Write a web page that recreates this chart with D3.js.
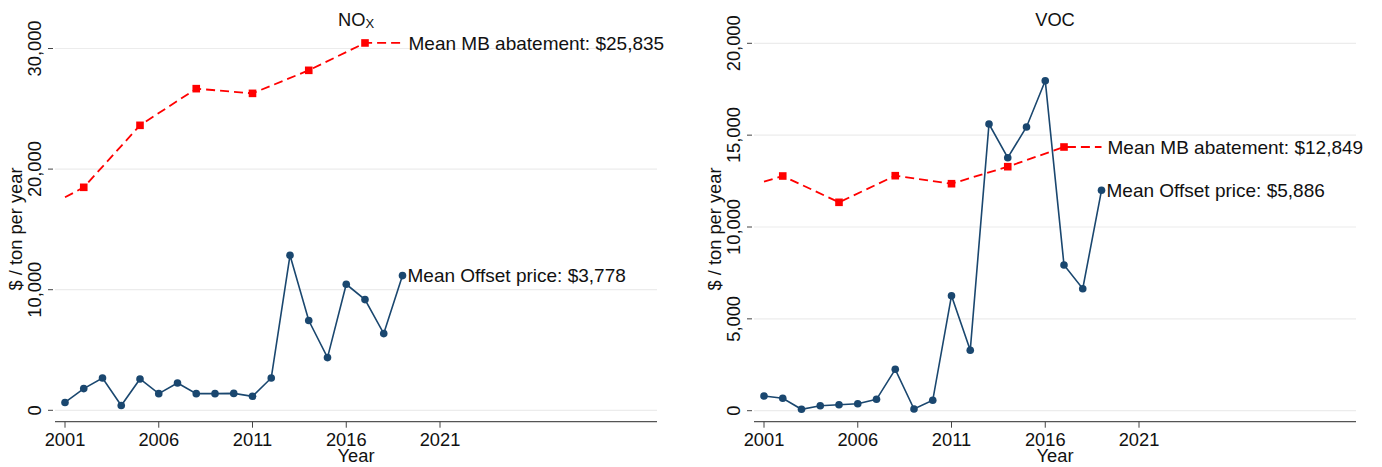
<!DOCTYPE html>
<html>
<head>
<meta charset="utf-8">
<script src="https://cdn.jsdelivr.net/npm/d3@7"></script>
<style>
  body { margin: 0; background: #fff; }
  svg { display: block; font-family: "Liberation Sans", Arial, sans-serif; }
</style>
</head>
<body>
<svg id="chart" width="1382" height="467"></svg>
<script>
// ---------- DATA ----------
const years = [2001,2002,2003,2004,2005,2006,2007,2008,2009,2010,2011,2012,2013,2014,2015,2016,2017,2018,2019];
const noxOffset = [650,1800,2680,400,2600,1380,2260,1380,1380,1400,1160,2680,12850,7440,4370,10450,9180,6360,11170];
const noxMBYears = [2001,2002,2005,2008,2011,2014,2017,2019];
const noxMB = [17660,18490,23630,26670,26280,28190,30460,30460];
const vocOffset = [800,675,76,272,327,381,620,2254,92,566,6260,3288,15607,13773,15444,17964,7931,6641,11998];
const vocMBYears = [2001,2002,2005,2008,2011,2014,2017,2019];
const vocMB = [12466,12776,11344,12793,12357,13283,14355,14355];
const xTicks = [2001,2006,2011,2016,2021];
const noxYTicks = [0,10000,20000,30000];
const vocYTicks = [0,5000,10000,15000,20000];
const noxLabels = ["Mean MB abatement: $25,835", "Mean Offset price: $3,778"];
const vocLabels = ["Mean MB abatement: $12,849", "Mean Offset price: $5,886"];

// ---------- DRAW ----------
const svg = d3.select("#chart");
const BLUE = "#1a476f", RED = "#ff0000";
const fmt = d3.format(",");
const FS = 18.3;

function panel(cfg) {
  const g = svg.append("g");
  const x = d3.scaleLinear().domain([2001, 2021]).range([cfg.x0, cfg.x0 + 375]);
  const y = d3.scaleLinear().domain([0, cfg.yMax]).range([cfg.yBottom, cfg.yTop]);
  const left = cfg.x0 - 10, right = cfg.x0 + 592;

  // gridlines
  g.selectAll("line.grid").data(cfg.yTicks).join("line")
    .attr("x1", left).attr("x2", right)
    .attr("y1", d => y(d)).attr("y2", d => y(d))
    .attr("stroke", "#ececec").attr("stroke-width", 1.2);

  // y ticks
  g.selectAll("line.yt").data(cfg.yTicks).join("line")
    .attr("x1", left - 7).attr("x2", left - 2)
    .attr("y1", d => y(d)).attr("y2", d => y(d))
    .attr("stroke", "#444").attr("stroke-width", 1);
  g.selectAll("text.yl").data(cfg.yTicks).join("text")
    .attr("transform", d => `translate(${left - 14},${y(d)}) rotate(-90)`)
    .attr("text-anchor", "middle").attr("font-size", FS).attr("fill", "#111")
    .text(d => fmt(d));

  // x axis
  const axisY = 421.7;
  g.append("line").attr("x1", left).attr("x2", right).attr("y1", axisY).attr("y2", axisY)
    .attr("stroke", "#555").attr("stroke-width", 1.3);
  g.selectAll("line.xt").data(xTicks).join("line")
    .attr("x1", d => x(d)).attr("x2", d => x(d))
    .attr("y1", axisY).attr("y2", axisY + 6)
    .attr("stroke", "#444");
  g.selectAll("text.xl").data(xTicks).join("text")
    .attr("x", d => x(d)).attr("y", 446)
    .attr("text-anchor", "middle").attr("font-size", FS).attr("fill", "#111")
    .text(d => d);
  g.append("text").attr("x", cfg.x0 + 291).attr("y", 462)
    .attr("text-anchor", "middle").attr("font-size", FS).attr("fill", "#111").text("Year");

  // y title
  g.append("text")
    .attr("transform", `translate(${cfg.x0 - 43},229) rotate(-90)`)
    .attr("text-anchor", "middle").attr("font-size", FS).attr("fill", "#111")
    .text("$ / ton per year");

  // title
  const t = g.append("text").attr("x", cfg.x0 + 291).attr("y", 26)
    .attr("text-anchor", "middle").attr("font-size", FS).attr("fill", "#111");
  t.append("tspan").text(cfg.title);
  if (cfg.sub) t.append("tspan").attr("font-size", 13).attr("dy", 2).text(cfg.sub);

  // red MB dashed line
  const mbPts = cfg.mbYears.map((yr, i) => [yr, cfg.mb[i]]);
  g.append("path").datum(mbPts)
    .attr("d", d3.line().x(d => x(d[0])).y(d => y(d[1])))
    .attr("fill", "none").attr("stroke", RED).attr("stroke-width", 1.8)
    .attr("stroke-dasharray", "9,5");
  g.selectAll("rect.mb").data(mbPts.slice(1, -1)).join("rect")
    .attr("x", d => x(d[0]) - 3.8).attr("y", d => y(d[1]) - 3.8)
    .attr("width", 7.6).attr("height", 7.6).attr("fill", RED);

  // blue offset line
  const offPts = years.map((yr, i) => [yr, cfg.off[i]]);
  g.append("path").datum(offPts)
    .attr("d", d3.line().x(d => x(d[0])).y(d => y(d[1])))
    .attr("fill", "none").attr("stroke", BLUE).attr("stroke-width", 1.6);
  g.selectAll("circle.off").data(offPts).join("circle")
    .attr("cx", d => x(d[0])).attr("cy", d => y(d[1])).attr("r", 3.8).attr("fill", BLUE);

  // labels
  const lastMB = mbPts[mbPts.length - 1], lastOff = offPts[offPts.length - 1];
  g.append("text").attr("x", x(lastMB[0]) + 6).attr("y", y(lastMB[1])).attr("dy", "0.35em")
    .attr("font-size", 19).attr("fill", "#111").text(cfg.labels[0]);
  g.append("text").attr("x", x(lastOff[0]) + 5).attr("y", y(lastOff[1])).attr("dy", "0.35em")
    .attr("font-size", 19).attr("fill", "#111").text(cfg.labels[1]);
}

panel({ x0: 65, yMax: 30000, yBottom: 410.3, yTop: 48.5, yTicks: noxYTicks,
        title: "NO", sub: "X", mbYears: noxMBYears, mb: noxMB, off: noxOffset, labels: noxLabels });
panel({ x0: 764, yMax: 20000, yBottom: 410.7, yTop: 43.3, yTicks: vocYTicks,
        title: "VOC", sub: null, mbYears: vocMBYears, mb: vocMB, off: vocOffset, labels: vocLabels });
</script>
</body>
</html>
